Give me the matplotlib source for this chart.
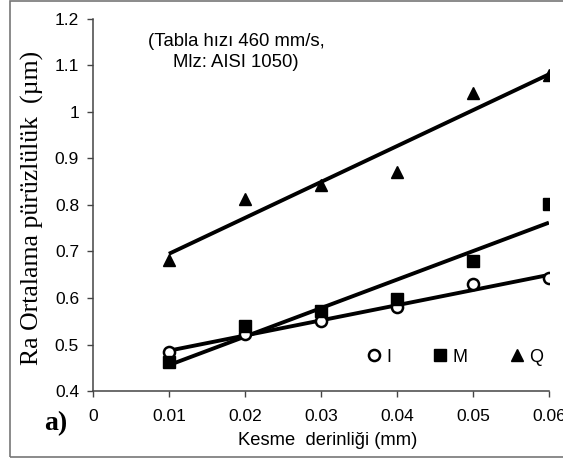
import matplotlib
matplotlib.use("Agg")
import matplotlib.pyplot as plt
import numpy as np

# Kesme derinligi (mm) and Ra values for each cutting condition
depth = [0.01, 0.02, 0.03, 0.04, 0.05, 0.06]
ra_I = [0.484, 0.523, 0.55, 0.58, 0.63, 0.642]
ra_M = [0.462, 0.54, 0.572, 0.597, 0.68, 0.802]
ra_Q = [0.682, 0.812, 0.843, 0.871, 1.04, 1.08]

xticks = [0, 0.01, 0.02, 0.03, 0.04, 0.05, 0.06]
xticklabels = ["0", "0.01", "0.02", "0.03", "0.04", "0.05", "0.06"]
yticks = [0.4, 0.5, 0.6, 0.7, 0.8, 0.9, 1.0, 1.1, 1.2]
yticklabels = ["0.4", "0.5", "0.6", "0.7", "0.8", "0.9", "1", "1.1", "1.2"]

plt.rcParams['font.family'] = ['Liberation Sans', 'DejaVu Sans']

fig = plt.figure(figsize=(5.63, 4.63), dpi=100)
ax = fig.add_axes([0.165, 0.1555, 0.81, 0.8035])

x = np.array(depth)
for vals in (ra_I, ra_M, ra_Q):
    # linear trend line
    k, b = np.polyfit(x, vals, 1)
    ax.plot(x, k * x + b, color='black', lw=2.8, solid_capstyle='butt', zorder=2)

ax.plot(depth, ra_I, 'o', ls='none', ms=8, mfc='white', mec='black', mew=1.8,
        label='I', zorder=3)
ax.plot(depth, ra_M, 's', ls='none', ms=9, color='black', label='M', zorder=3)
ax.plot(depth, ra_Q, '^', ls='none', ms=9, color='black', label='Q', zorder=3)

ax.set_xlim(0, 0.06)
ax.set_ylim(0.4, 1.2)
ax.set_xticks(xticks)
ax.set_xticklabels(xticklabels)
ax.set_yticks(yticks)
ax.set_yticklabels(yticklabels)
ax.tick_params(direction='out', length=4, width=1, colors='#444444',
               labelcolor='black', labelsize=12.5)
ax.tick_params(axis='y', pad=6)
ax.tick_params(axis='x', pad=9)
for s in ('top', 'right'):
    ax.spines[s].set_visible(False)
for s in ('left', 'bottom'):
    ax.spines[s].set_color('#444444')
    ax.spines[s].set_linewidth(1.1)

ax.set_xlabel('Kesme  derinliği (mm)', fontsize=13.2)
ax.xaxis.set_label_coords((328 - 93) / 456, -(440 - 391) / 372)
ax.xaxis.label.set_va('center')
ax.set_ylabel('Ra Ortalama pürüzlülük  (µm)', fontsize=18.5,
              family=['Liberation Serif', 'DejaVu Serif'])
ax.yaxis.set_label_coords(-(93 - 33) / 456, (391 - 208) / 372)
ax.yaxis.label.set_va('center')

ax.text((236 - 93) / 456, (391 - 52) / 372, '(Tabla hızı 460 mm/s,\nMlz: AISI 1050)',
        transform=ax.transAxes, ha='center', va='center', fontsize=13.3,
        linespacing=1.3)

fig.text(56 / 563, 1 - 424 / 463, 'a)', fontsize=20, fontweight='bold',
         family=['Liberation Serif', 'DejaVu Serif'], ha='center', va='center')

ax.legend(loc='center', bbox_to_anchor=((455 - 93) / 456, (391 - 357) / 372), ncol=3,
          frameon=False, fontsize=13, handlelength=0.8, handletextpad=0.3,
          columnspacing=2.3, borderaxespad=0, borderpad=0)

# grey frame around the whole picture
fig.patches.append(plt.Rectangle((10 / 563, 6 / 463), 1.0, 1.0 - 7 / 463,
                                 transform=fig.transFigure, fill=False,
                                 edgecolor='#777777', lw=1.2))

fig.savefig('out.png', dpi=100)
